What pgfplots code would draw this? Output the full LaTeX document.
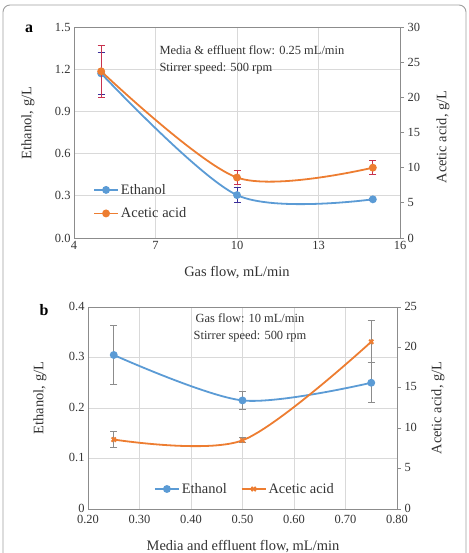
\documentclass[border=0pt]{standalone}
\usepackage{fontspec}
\setmainfont{Liberation Serif}
\usepackage{pgfplots}
\pgfplotsset{compat=1.18}
\definecolor{eblue}{HTML}{5B9BD5}
\definecolor{aorange}{HTML}{ED7D31}
\definecolor{ebar}{HTML}{3A2E9A}
\definecolor{abar}{HTML}{C8324E}
\definecolor{gbar}{HTML}{8C8C8C}
\definecolor{gridc}{HTML}{D9D9D9}
\definecolor{framec}{HTML}{8C8C8C}
\definecolor{txt}{HTML}{333333}
\pgfplotsset{
  base/.style={
    scale only axis,
    /pgf/number format/assume math mode=true,
    tick label style={font=\fontsize{12.5}{13}\selectfont, text=txt},
    axis line style={framec, line width=0.8pt},
    major grid style={gridc, line width=0.7pt},
    tick style={framec, line width=0.8pt},
    legend cell align=left,
    legend style={draw=none, fill=none, font=\fontsize{14.5}{16}\selectfont, text=txt},
    legend image code/.code={\draw[mark repeat=2,mark phase=2,#1] plot coordinates {(0bp,0bp) (12bp,0bp) (24bp,0bp)};},
  },
}
\tikzset{
  lbl/.style={font=\fontsize{14.5}{16}\selectfont, text=txt},
  ann/.style={font=\fontsize{12.5}{14}\selectfont, text=txt},
}
\begin{document}
\begin{tikzpicture}
\useasboundingbox (0,0) rectangle (469bp,-553bp);
\draw[gray!75, line width=0.9pt, rounded corners=7bp] (3bp,-5bp) rectangle (466bp,-620bp);

% ---------------- Panel a ----------------
\begin{axis}[base, at={(74bp,-238bp)}, anchor=south west, width=326bp, height=211bp,
  xmin=4, xmax=16, xtick={4,7,10,13,16},
  ymin=0, ymax=1.5, ytick={0,0.3,0.6,0.9,1.2,1.5},
  yticklabel style={/pgf/number format/.cd, fixed, fixed zerofill, precision=1},
  grid=major, major tick length=0pt]
\addplot[eblue, line width=1.8bp, smooth, mark=*, mark size=3bp, mark options={solid, fill=eblue},
  error bars/.cd, y dir=both, y explicit,
  error bar style={ebar, line width=1pt},
  error mark options={rotate=90, ebar, mark size=3.5bp, line width=1pt}]
  coordinates {(5,1.17) +- (0,0.15) (10,0.305) +- (0,0.055) (15,0.275) +- (0,0.008)};
\end{axis}
\begin{axis}[base, at={(74bp,-238bp)}, anchor=south west, width=326bp, height=211bp,
  xmin=4, xmax=16, axis x line=none, axis y line*=right,
  ymin=0, ymax=30, ytick={0,5,10,15,20,25,30},
  major tick length=4bp, tick align=outside,
  legend style={at={(0.049,0.275)}, anchor=north west, row sep=8bp}]
\addlegendimage{eblue, line width=1.8bp, mark=*, mark size=3bp, mark options={solid, fill=eblue}}
\addlegendentry{Ethanol}
\addplot[aorange, line width=1.8bp, smooth, mark=*, mark size=3bp, mark options={solid, fill=aorange},
  error bars/.cd, y dir=both, y explicit,
  error bar style={abar, line width=1pt},
  error mark options={rotate=90, abar, mark size=3.5bp, line width=1pt}]
  coordinates {(5,23.7) +- (0,3.7) (10,8.6) +- (0,1.0) (15,10.0) +- (0,1.0)};
\addlegendentry{Acetic acid}
\end{axis}
\node[font=\bfseries\fontsize{16}{18}\selectfont] at (29bp,-29bp) {a};
\node[lbl] at (237bp,-273bp) {Gas flow, mL/min};
\node[lbl, rotate=90] at (28bp,-123bp) {Ethanol, g/L};
\node[lbl, rotate=90] at (443bp,-137bp) {Acetic acid, g/L};
\node[ann, anchor=west] at (156bp,-50bp) {Media \& effluent flow: 0.25 mL/min};
\node[ann, anchor=west] at (156bp,-69bp) {Stirrer speed: 500 rpm};

% ---------------- Panel b ----------------
\begin{axis}[base, at={(88bp,-509bp)}, anchor=south west, width=309bp, height=202bp,
  xmin=0.2, xmax=0.8, xtick={0.2,0.3,0.4,0.5,0.6,0.7,0.8},
  xticklabel style={yshift=-3bp, /pgf/number format/.cd, fixed, fixed zerofill, precision=2},
  ymin=0, ymax=0.4, ytick={0,0.1,0.2,0.3,0.4},
  yticklabel style={yshift=1bp, /pgf/number format/.cd, fixed, precision=1},
  grid=major, major tick length=0pt]
\addplot[eblue, line width=1.8bp, smooth, mark=*, mark size=3bp, mark options={solid, fill=eblue},
  error bars/.cd, y dir=both, y explicit,
  error bar style={gbar, line width=1pt},
  error mark options={rotate=90, gbar, mark size=3.5bp, line width=1pt}]
  coordinates {(0.25,0.305) +- (0,0.058) (0.5,0.215) +- (0,0.018) (0.75,0.25) +- (0,0.04)};
\end{axis}
\begin{axis}[base, at={(88bp,-509bp)}, anchor=south west, width=309bp, height=202bp,
  xmin=0.2, xmax=0.8, axis x line=none, axis y line*=right,
  ymin=0, ymax=25, ytick={0,5,10,15,20,25},
  yticklabel style={yshift=1bp},
  major tick length=4bp, tick align=outside,
  legend columns=2,
  legend style={at={(0.508,0.099)}, anchor=center, /tikz/every even column/.append style={column sep=12bp}}]
\addlegendimage{eblue, line width=1.8bp, mark=*, mark size=3bp, mark options={solid, fill=eblue}}
\addlegendentry{Ethanol}
\addplot[aorange, line width=1.8bp, smooth, mark=x, mark size=3bp, mark options={solid},
  error bars/.cd, y dir=both, y explicit,
  error bar style={gbar, line width=1pt},
  error mark options={rotate=90, gbar, mark size=3.5bp, line width=1pt}]
  coordinates {(0.25,8.6) +- (0,1.0) (0.5,8.5) +- (0,0.3) (0.75,20.7) +- (0,2.6)};
\addlegendentry{Acetic acid}
\end{axis}
\node[font=\bfseries\fontsize{16}{18}\selectfont] at (44bp,-310bp) {b};
\node[lbl] at (243bp,-547bp) {Media and effluent flow, mL/min};
\node[lbl, rotate=90] at (40bp,-398bp) {Ethanol, g/L};
\node[lbl, rotate=90] at (438bp,-408bp) {Acetic acid, g/L};
\node[ann] at (250bp,-318bp) {Gas flow: 10 mL/min};
\node[ann] at (250bp,-337bp) {Stirrer speed: 500 rpm};
\end{tikzpicture}
\end{document}
